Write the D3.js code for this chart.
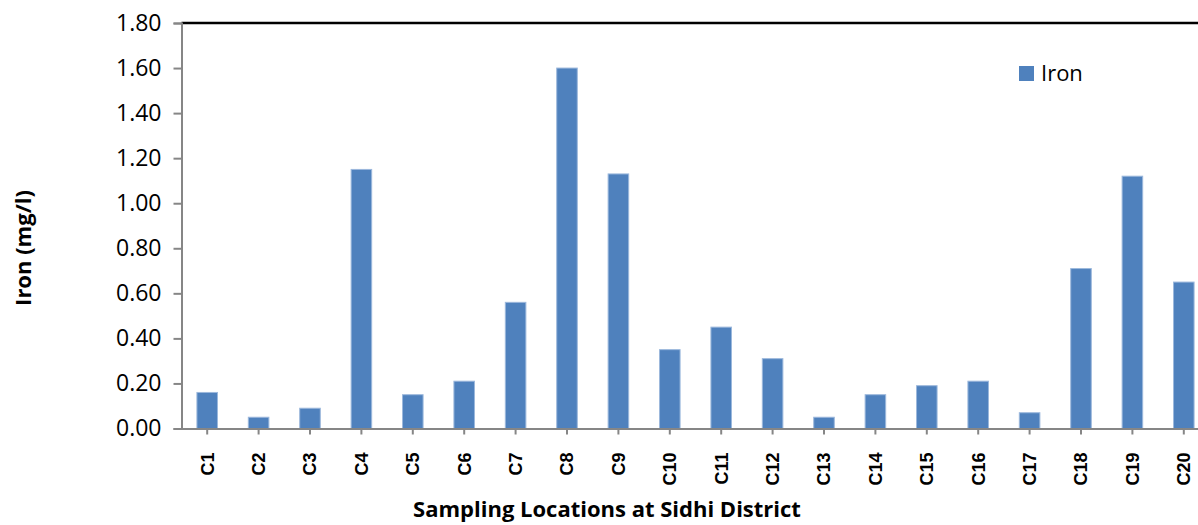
<!DOCTYPE html>
<html>
<head>
<meta charset="utf-8">
<script src="https://cdn.jsdelivr.net/npm/d3@7"></script>
<style>
  html, body { margin: 0; padding: 0; background: #fff; overflow: hidden; }
  svg { display: block; font-family: "Open Sans", "Noto Sans", sans-serif; }
</style>
</head>
<body>
<div id="chart"></div>
<script>
// data
const locations = ["C1", "C2", "C3", "C4", "C5", "C6", "C7", "C8", "C9", "C10",
                   "C11", "C12", "C13", "C14", "C15", "C16", "C17", "C18", "C19", "C20"];
const ironValues = [0.16, 0.05, 0.09, 1.15, 0.15, 0.21, 0.56, 1.60, 1.13, 0.35,
                    0.45, 0.31, 0.05, 0.15, 0.19, 0.21, 0.07, 0.71, 1.12, 0.65];
const yTicks = [0, 0.2, 0.4, 0.6, 0.8, 1.0, 1.2, 1.4, 1.6, 1.8];
const seriesName = "Iron";

const width = 1198, height = 525;
// plot area runs a bit past the right edge, like the original image
const plot = { left: 181.5, right: 1209.5, top: 23, bottom: 428.5 };

const svg = d3.select("#chart").append("svg")
    .attr("width", width)
    .attr("height", height);

const x = d3.scaleBand()
    .domain(locations)
    .range([plot.left, plot.right])
    .paddingInner(0.6)
    .paddingOuter(0.3);

const y = d3.scaleLinear()
    .domain([0, 1.8])
    .range([plot.bottom, plot.top]);

// bars
svg.append("g")
    .selectAll("rect")
    .data(locations)
    .join("rect")
    .attr("x", d => x(d))
    .attr("y", (d, i) => y(ironValues[i]))
    .attr("width", x.bandwidth())
    .attr("height", (d, i) => y(0) - y(ironValues[i]))
    .attr("fill", "#4f81bd")
    .attr("stroke", "#9cb8dc")
    .attr("stroke-width", 1);

// top border
svg.append("line")
    .attr("x1", plot.left).attr("x2", plot.right)
    .attr("y1", plot.top).attr("y2", plot.top)
    .attr("stroke", "#000").attr("stroke-width", 2.5);

// y axis
const yAxis = svg.append("g")
    .attr("transform", `translate(${plot.left},0)`)
    .call(d3.axisLeft(y).tickValues(yTicks).tickFormat(d3.format(".2f")).tickSize(8).tickPadding(12));
yAxis.select(".domain").attr("stroke", "#868686").attr("stroke-width", 2);
yAxis.selectAll(".tick line").attr("stroke", "#868686").attr("stroke-width", 2);
yAxis.selectAll(".tick text")
    .attr("font-size", 23)
    .attr("fill", "#000")
    .style("font-family", "'Open Sans', sans-serif");

// x axis
const xAxis = svg.append("g")
    .attr("transform", `translate(0,${plot.bottom})`)
    .call(d3.axisBottom(x).tickSize(6).tickSizeOuter(0));
xAxis.select(".domain").attr("stroke", "#868686").attr("stroke-width", 2);
xAxis.selectAll(".tick line").attr("stroke", "#868686").attr("stroke-width", 2);
xAxis.selectAll(".tick text")
    .attr("transform", "rotate(-90)")
    .attr("x", -24)
    .attr("y", 0)
    .attr("dy", "0.35em")
    .attr("text-anchor", "end")
    .attr("font-size", 18)
    .attr("font-weight", "bold")
    .attr("fill", "#000");

// axis titles
svg.append("text")
    .attr("x", 607)
    .attr("y", 517)
    .attr("text-anchor", "middle")
    .attr("font-size", 22)
    .attr("font-weight", "bold")
    .text("Sampling Locations at Sidhi District");

svg.append("text")
    .attr("transform", "translate(31,248) rotate(-90)")
    .attr("text-anchor", "middle")
    .attr("font-size", 22)
    .attr("font-weight", "bold")
    .text("Iron (mg/l)");

// legend
const legend = svg.append("g").attr("transform", "translate(1019,66)");
legend.append("rect")
    .attr("width", 15).attr("height", 15)
    .attr("fill", "#4f81bd");
legend.append("text")
    .attr("x", 22).attr("y", 15)
    .attr("font-size", 22)
    .text(seriesName);
</script>
</body>
</html>
